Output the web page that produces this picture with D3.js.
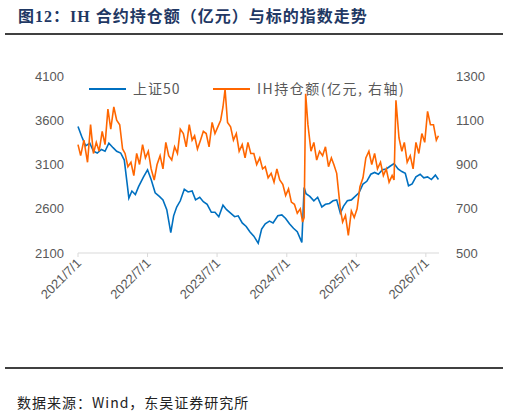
<!DOCTYPE html>
<html><head><meta charset="utf-8">
<script src="https://cdn.jsdelivr.net/npm/d3@7"></script>
<style>body{margin:0;background:#fff}</style></head>
<body><svg id="c" width="509" height="417"></svg>
<script>
const leftTicks=[2100,2600,3100,3600,4100];
const rightTicks=[500,700,900,1100,1300];
const xTickLabels=["2021/7/1","2022/7/1","2023/7/1","2024/7/1","2025/7/1","2026/7/1"];
const sseDates=["2021-07-01","2021-07-20","2021-08-10","2021-09-01","2021-09-20","2021-10-10","2021-11-01","2021-11-20","2021-12-10","2022-01-01","2022-01-20","2022-02-10","2022-03-01","2022-03-15","2022-03-25","2022-04-10","2022-04-28","2022-05-15","2022-06-10","2022-07-01","2022-07-20","2022-08-10","2022-09-01","2022-09-20","2022-10-10","2022-10-31","2022-11-15","2022-12-01","2022-12-20","2023-01-10","2023-01-30","2023-02-20","2023-03-10","2023-04-01","2023-04-20","2023-05-10","2023-06-01","2023-06-20","2023-07-10","2023-08-01","2023-08-20","2023-09-10","2023-10-01","2023-10-20","2023-11-10","2023-12-01","2023-12-20","2024-01-10","2024-02-02","2024-02-20","2024-03-10","2024-04-01","2024-04-20","2024-05-15","2024-06-05","2024-06-25","2024-07-15","2024-08-05","2024-08-25","2024-09-18","2024-09-30","2024-10-10","2024-10-30","2024-11-20","2024-12-10","2025-01-01","2025-01-20","2025-02-10","2025-03-01","2025-03-20","2025-04-08","2025-04-25","2025-05-15","2025-06-05","2025-06-25","2025-07-15","2025-08-05","2025-08-25","2025-09-15","2025-10-05","2025-10-25","2025-11-15","2025-12-05","2025-12-25","2026-01-15","2026-02-05","2026-02-25","2026-03-15","2026-04-01","2026-04-20","2026-05-10","2026-06-01","2026-06-20","2026-07-10","2026-07-30","2026-08-20","2026-09-05"];
const sseValues=[3530,3420,3310,3340,3250,3230,3270,3250,3340,3290,3250,3230,3150,2900,2720,2800,2760,2850,2960,3040,2930,2780,2740,2700,2590,2330,2520,2620,2690,2820,2790,2800,2700,2730,2680,2650,2560,2560,2510,2640,2590,2550,2510,2520,2440,2400,2340,2290,2210,2370,2430,2460,2440,2520,2530,2490,2430,2380,2340,2220,2840,2770,2740,2690,2730,2620,2650,2660,2690,2700,2550,2630,2690,2700,2740,2780,2880,2910,2990,3010,2990,3040,3050,3080,3110,3050,3020,3000,2860,2880,2960,2990,2950,2960,2930,2980,2930];
const ihDates=["2021-07-01","2021-07-15","2021-08-01","2021-08-20","2021-09-05","2021-09-20","2021-10-05","2021-10-20","2021-11-05","2021-11-20","2021-12-05","2021-12-20","2022-01-05","2022-01-20","2022-02-05","2022-02-20","2022-03-05","2022-03-20","2022-04-05","2022-04-20","2022-05-05","2022-05-20","2022-06-05","2022-06-20","2022-07-05","2022-07-20","2022-08-05","2022-08-20","2022-09-05","2022-09-20","2022-10-05","2022-10-20","2022-11-05","2022-11-20","2022-12-05","2022-12-20","2023-01-05","2023-01-20","2023-02-05","2023-02-20","2023-03-05","2023-03-20","2023-04-05","2023-04-20","2023-05-05","2023-05-20","2023-06-05","2023-06-20","2023-07-05","2023-07-20","2023-08-01","2023-08-12","2023-08-25","2023-09-10","2023-09-25","2023-10-10","2023-10-25","2023-11-10","2023-11-25","2023-12-10","2023-12-25","2024-01-10","2024-01-25","2024-02-10","2024-02-25","2024-03-10","2024-03-25","2024-04-10","2024-04-25","2024-05-10","2024-05-25","2024-06-10","2024-06-25","2024-07-10","2024-07-25","2024-08-10","2024-08-25","2024-09-10","2024-09-22","2024-09-30","2024-10-08","2024-10-20","2024-11-05","2024-11-20","2024-12-05","2024-12-20","2025-01-05","2025-01-20","2025-02-05","2025-02-20","2025-03-05","2025-03-20","2025-04-08","2025-04-20","2025-05-05","2025-05-20","2025-06-05","2025-06-20","2025-07-05","2025-07-20","2025-08-05","2025-08-20","2025-09-05","2025-09-20","2025-10-05","2025-10-20","2025-11-05","2025-11-20","2025-12-05","2025-12-20","2026-01-05","2026-01-15","2026-01-25","2026-02-10","2026-02-25","2026-03-10","2026-03-25","2026-04-10","2026-04-25","2026-05-10","2026-05-25","2026-06-10","2026-06-25","2026-07-10","2026-07-25","2026-08-10","2026-08-25","2026-09-05"];
const ihValues=[990,940,1010,910,1080,950,1000,960,1050,990,1150,1060,1160,1100,1080,970,950,890,910,850,950,900,990,930,960,880,830,900,940,880,1000,940,920,980,950,1060,1040,980,1080,1010,1030,970,1010,1050,1040,980,1090,1040,1070,1100,1160,1240,1090,1070,1010,1040,960,990,930,1000,950,950,900,930,880,890,840,860,820,880,830,810,760,790,730,720,680,700,640,660,1220,1080,960,1000,920,960,940,980,890,930,900,860,700,640,670,580,690,660,700,800,840,930,960,900,950,880,910,850,880,820,850,830,1190,1020,960,1000,910,940,880,1000,950,1040,1000,1140,1080,1080,1010,1030,980];

const svg=d3.select("#c");
const parse=d3.timeParse("%Y-%m-%d");
const m={l:78,r:439,t:76,b:253};
const x=d3.scaleTime().domain([parse("2021-07-01"),parse("2026-09-08")]).range([m.l,m.r]);
const yL=d3.scaleLinear().domain([2100,4100]).range([m.b,m.t]);
const yR=d3.scaleLinear().domain([500,1300]).range([m.b,m.t]);
const font="Liberation Sans, Arial, sans-serif";

svg.append("text").attr("x",18).attr("y",22).attr("font-family","Liberation Serif, Noto Sans CJK SC, serif").attr("font-weight","bold").attr("font-size",16).attr("letter-spacing",1).attr("fill","#1f3864").text("图12：IH 合约持仓额（亿元）与标的指数走势");
svg.append("line").attr("x1",5).attr("x2",503).attr("y1",34).attr("y2",34).attr("stroke","#000").attr("stroke-width",1.5);
svg.append("line").attr("x1",5).attr("x2",503).attr("y1",368).attr("y2",368).attr("stroke","#000").attr("stroke-width",1.5);
svg.append("text").attr("x",17).attr("y",408).attr("font-family","Noto Sans CJK SC, serif").attr("font-size",14).attr("letter-spacing",1).attr("fill","#222").text("数据来源：Wind，东吴证券研究所");

svg.append("line").attr("x1",m.l).attr("x2",m.r).attr("y1",m.b).attr("y2",m.b).attr("stroke","#d9d9d9");
const xTickDates=xTickLabels.map(s=>d3.timeParse("%Y/%m/%d")(s));
svg.selectAll(".xt").data(xTickDates).join("line").attr("x1",d=>x(d)).attr("x2",d=>x(d)).attr("y1",m.b).attr("y2",m.b+4).attr("stroke","#d9d9d9");
svg.selectAll(".xl").data(xTickLabels).join("text")
 .attr("transform",(d,i)=>`translate(${x(xTickDates[i])+4},${m.b+11}) rotate(-45)`)
 .attr("text-anchor","end").attr("font-family",font).attr("font-size",13).attr("fill","#595959").text(d=>d);
svg.selectAll(".yl").data(leftTicks).join("text").attr("x",m.l-14).attr("y",d=>yL(d)+4.5).attr("text-anchor","end").attr("font-family",font).attr("font-size",13).attr("fill","#595959").text(d=>d);
svg.selectAll(".yr").data(rightTicks).join("text").attr("x",m.r+17).attr("y",d=>yR(d)+4.5).attr("text-anchor","start").attr("font-family",font).attr("font-size",13).attr("fill","#595959").text(d=>d);

const sse=sseDates.map((d,i)=>({d:parse(d),v:sseValues[i]}));
const ih=ihDates.map((d,i)=>({d:parse(d),v:ihValues[i]}));
svg.append("path").datum(sse).attr("fill","none").attr("stroke","#0070c0").attr("stroke-width",1.6)
 .attr("d",d3.line().x(d=>x(d.d)).y(d=>yL(d.v)));
svg.append("path").datum(ih).attr("fill","none").attr("stroke","#ff6600").attr("stroke-width",1.6)
 .attr("d",d3.line().x(d=>x(d.d)).y(d=>yR(d.v)));

svg.append("line").attr("x1",89).attr("x2",126).attr("y1",89).attr("y2",89).attr("stroke","#0070c0").attr("stroke-width",2);
svg.append("text").attr("x",133).attr("y",94).attr("font-family","Noto Sans CJK SC, sans-serif").attr("font-size",14).attr("letter-spacing",1).attr("fill","#595959").text("上证50");
svg.append("line").attr("x1",213).attr("x2",250).attr("y1",89).attr("y2",89).attr("stroke","#ff6600").attr("stroke-width",2);
svg.append("text").attr("x",257).attr("y",94).attr("font-family","Noto Sans CJK SC, sans-serif").attr("font-size",14).attr("letter-spacing",1.5).attr("fill","#595959").text("IH持仓额(亿元, 右轴)");
</script></body></html>
